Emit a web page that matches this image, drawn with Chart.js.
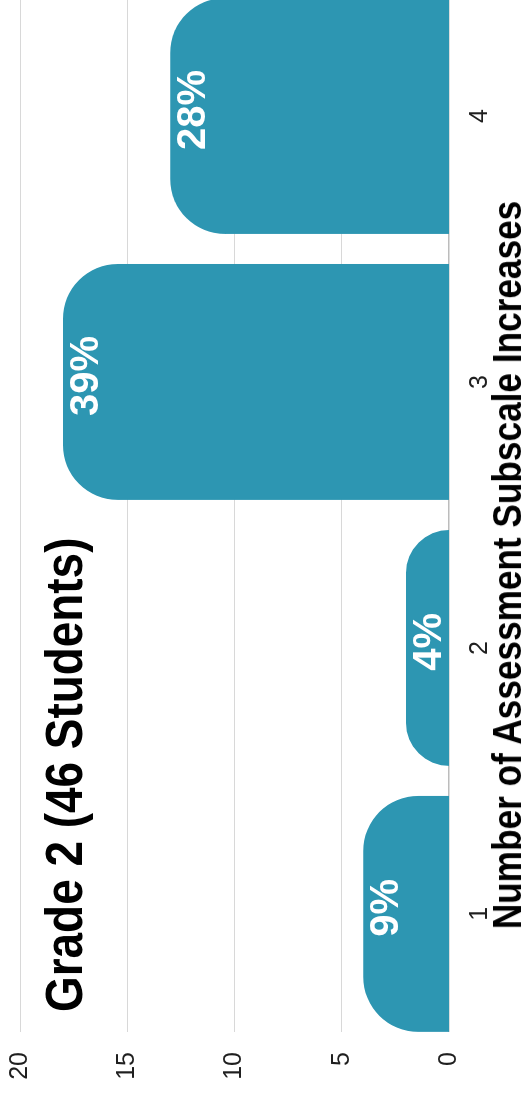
<!DOCTYPE html>
<html>
<head>
<meta charset="utf-8">
<title>Grade 2 (46 Students)</title>
<script src="https://cdn.jsdelivr.net/npm/chart.js@4.4.1/dist/chart.umd.min.js"></script>
<style>
  html, body {
    margin: 0;
    padding: 0;
    background: #fff;
  }
  body {
    width: 526px;
    height: 1097px;
    overflow: hidden;
    position: relative;
  }
  /* the chart is laid out landscape and turned a quarter turn to read bottom-up */
  #frame {
    position: absolute;
    left: 0;
    top: 0;
    width: 1097px;
    height: 526px;
    transform-origin: 0 0;
    transform: translate(0, 1097px) rotate(-90deg);
    font-family: "Liberation Sans", Arial, Helvetica, sans-serif;
  }
  #frame canvas {
    position: absolute;
    left: 0;
    top: 0;
  }
  .chart-title {
    position: absolute;
    left: 85px;
    top: 39px;
    font-size: 51px;
    line-height: 1;
    font-weight: bold;
    color: #000;
    white-space: nowrap;
    transform-origin: 0 0;
    transform: scaleX(0.9);
  }
  .axis-title {
    position: absolute;
    left: 0;
    top: 487px;
    width: 1064px;
    text-align: center;
    font-size: 40px;
    line-height: 1;
    font-weight: bold;
    color: #000;
    white-space: nowrap;
    transform-origin: 532px 0;
    transform: scaleX(0.88);
  }
</style>
</head>
<body>
<div id="frame">
  <canvas id="chart" width="1097" height="526"></canvas>
  <div class="chart-title">Grade 2 (46 Students)</div>
  <div class="axis-title">Number of Assessment Subscale Increases</div>
</div>

<script>
const categories = [1, 2, 3, 4];
const studentCounts = [4, 2, 18, 13];
const totalStudents = 46;
const countTicks = [0, 5, 10, 15, 20];

const barColor = '#2d96b2';
const tickColor = '#1f1f1f';
const fontFamily = '"Liberation Sans", Arial, Helvetica, sans-serif';

// share of the class shown on each bar
const percentLabels = studentCounts.map(n => Math.round(n / totalStudents * 100) + '%');

const barLabels = {
  id: 'barLabels',
  afterDatasetsDraw(chart) {
    const { ctx } = chart;
    const meta = chart.getDatasetMeta(0);
    ctx.save();
    ctx.fillStyle = '#fff';
    ctx.font = 'bold 40px ' + fontFamily;
    ctx.textAlign = 'center';
    ctx.textBaseline = 'alphabetic';
    meta.data.forEach((bar, i) => {
      ctx.fillText(percentLabels[i], bar.x + 6, bar.y + 35);
    });
    ctx.restore();
  }
};

const config = {
  type: 'bar',
  data: {
    datasets: [
      {
        label: 'Students',
        data: categories.map((c, i) => ({ x: c, y: studentCounts[i] })),
        backgroundColor: barColor,
        borderRadius: 55,
        borderSkipped: 'start',
        // start the bars a little below zero so the big corner radius is not
        // clamped on short bars, then clip them at the axis line
        base: -2,
        clip: { left: false, top: false, right: false, bottom: 0 },
        barPercentage: 0.887,
        categoryPercentage: 1
      }
    ]
  },
  options: {
    responsive: false,
    animation: false,
    layout: { padding: { top: 20, right: 0, bottom: 0, left: 0 } },
    plugins: {
      legend: { display: false },
      tooltip: { enabled: false }
    },
    scales: {
      x: {
        type: 'linear',
        offset: false,
        min: 0.556,
        max: 4.436,
        grid: { display: false, offset: false },
        border: { display: false },
        ticks: {
          stepSize: 1,
          includeBounds: false,
          padding: 8,
          color: tickColor,
          font: { family: fontFamily, size: 25 },
          callback: v => String(v)
        },
        afterFit: scale => {
          scale.height = 77;
          scale.paddingLeft = 0;
          scale.paddingRight = 0;
        }
      },
      y: {
        min: countTicks[0],
        max: countTicks[countTicks.length - 1],
        afterBuildTicks: scale => {
          scale.ticks = countTicks.map(v => ({ value: v }));
        },
        grid: {
          drawTicks: false,
          color: ctx => ctx.tick && ctx.tick.value === 0 ? '#bcbcbc' : '#d8d8d8',
          lineWidth: ctx => ctx.tick && ctx.tick.value === 0 ? 1.5 : 1
        },
        border: { display: false },
        ticks: {
          padding: 20,
          color: tickColor,
          font: { family: fontFamily, size: 25 }
        },
        afterFit: scale => {
          scale.width = 65;
          scale.paddingTop = 0;
          scale.paddingBottom = 0;
        }
      }
    }
  },
  plugins: [barLabels]
};

new Chart(document.getElementById('chart'), config);
</script>
</body>
</html>
